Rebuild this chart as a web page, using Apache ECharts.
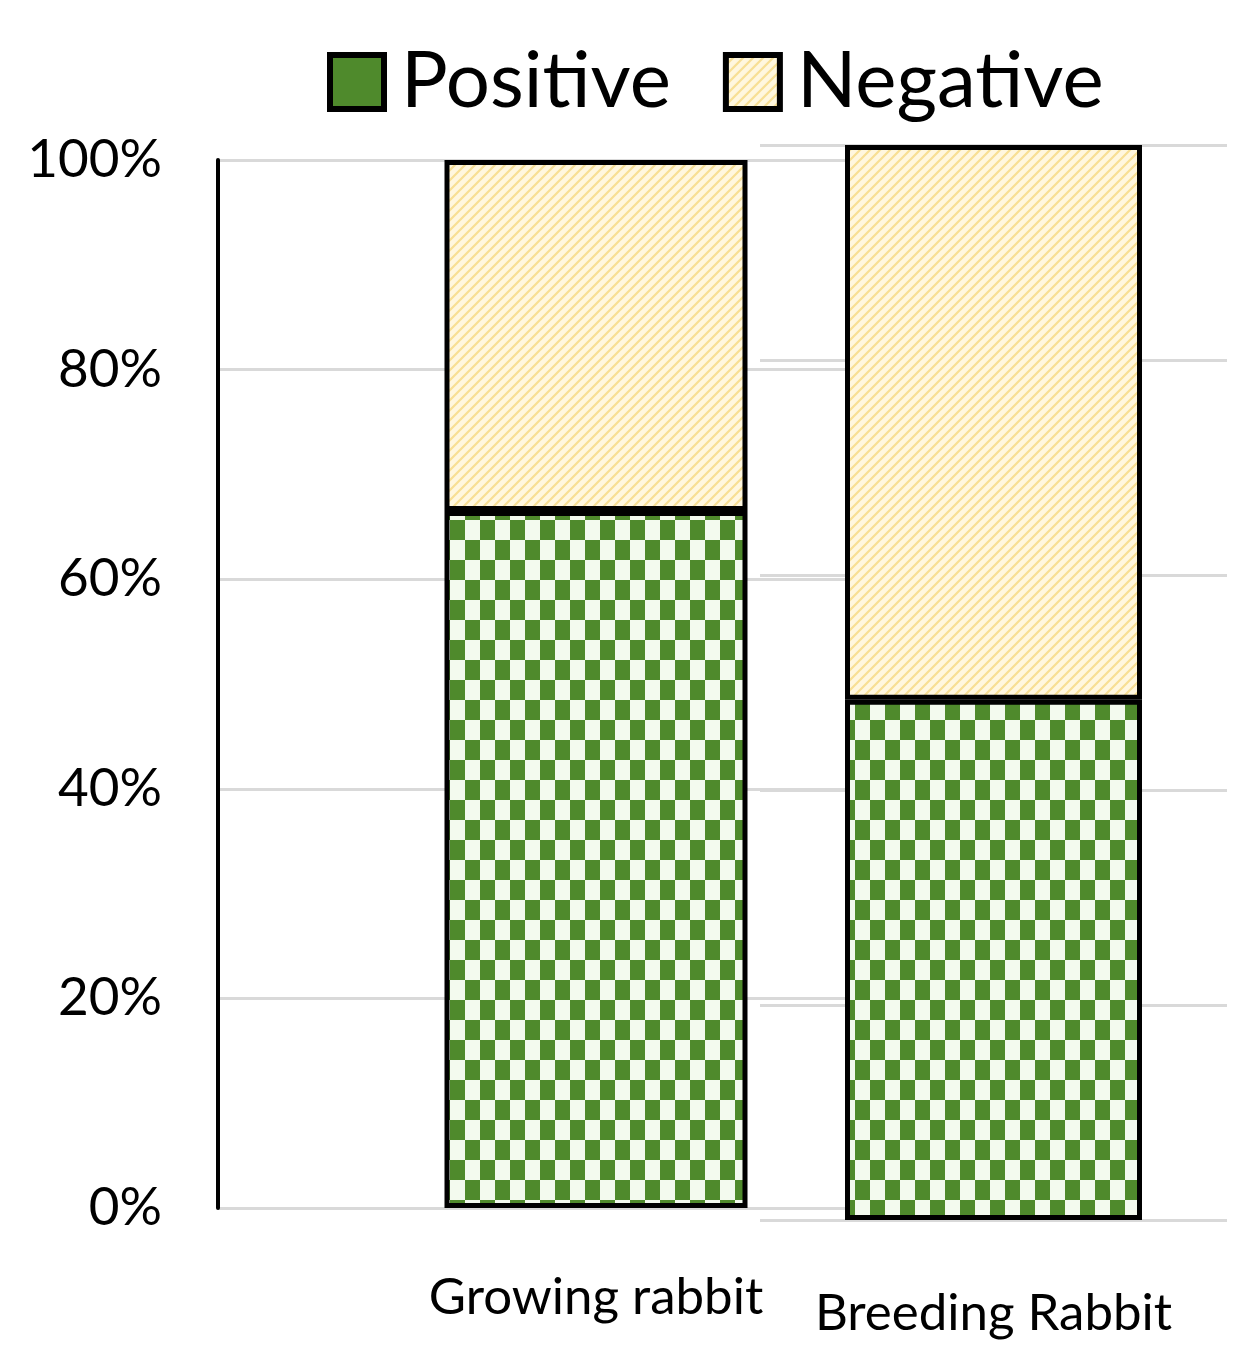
<!DOCTYPE html>
<html>
<head>
<meta charset="utf-8">
<script src="https://cdn.jsdelivr.net/npm/echarts@6/dist/echarts.min.js"></script>
<style>
  html, body { margin: 0; padding: 0; background: #ffffff; }
  #chart { width: 1237px; height: 1354px; }
</style>
</head>
<body>
<div id="chart"></div>
<script>
// Share of positive / negative results per rabbit group (percent)
const categories = ['Growing rabbit', 'Breeding Rabbit'];
const positive = [66.5, 48.4];
const negative = [33.5, 51.6];
const yTicks = [0, 20, 40, 60, 80, 100];

// Green checkerboard fill for "Positive"
function checkerPattern() {
  const c = document.createElement('canvas');
  const w = 15, h = 20;
  c.width = w * 2; c.height = h * 2;
  const g = c.getContext('2d');
  g.fillStyle = '#f3faee';
  g.fillRect(0, 0, c.width, c.height);
  g.fillStyle = '#4f8a2c';
  g.fillRect(0, 0, w, h);
  g.fillRect(w, h, w, h);
  return c;
}

// Pale yellow fill with thin diagonal stripes for "Negative"
function stripePattern() {
  const s = 10;
  const c = document.createElement('canvas');
  c.width = s; c.height = s;
  const g = c.getContext('2d');
  g.fillStyle = '#fff7df';
  g.fillRect(0, 0, s, s);
  g.strokeStyle = '#f8df94';
  g.lineWidth = 2.2;
  g.beginPath();
  g.moveTo(0, s); g.lineTo(s, 0);
  g.moveTo(-s / 2, s / 2); g.lineTo(s / 2, -s / 2);
  g.moveTo(s / 2, s * 1.5); g.lineTo(s * 1.5, s / 2);
  g.stroke();
  return c;
}

const posFill = { image: checkerPattern(), repeat: 'repeat' };
const negFill = { image: stripePattern(), repeat: 'repeat' };

const font = 'Lato, "Open Sans", sans-serif';
const gridLine = { show: true, lineStyle: { color: '#d9d9d9', width: 3 } };
const barBorder = { borderColor: '#000000', borderWidth: 5 };

const chart = echarts.init(document.getElementById('chart'), null, { renderer: 'canvas' });

chart.setOption({
  backgroundColor: '#ffffff',
  animation: false,
  legend: {
    left: 322,
    top: 38,
    itemWidth: 54,
    itemHeight: 54,
    itemGap: 52,
    icon: 'rect',
    textStyle: { fontFamily: font, fontSize: 78, color: '#000000', padding: [0, 0, 0, 12] },
    data: [
      { name: 'Positive', itemStyle: { color: '#4f8a2c', borderColor: '#000', borderWidth: 6 } },
      { name: 'Negative', itemStyle: { color: negFill, borderColor: '#000', borderWidth: 6 } }
    ]
  },
  grid: [
    { left: 218, right: 263, top: 160, bottom: 146 },
    { left: 760, right: 10, top: 145, bottom: 134 }
  ],
  xAxis: [
    {
      gridIndex: 0, type: 'category', data: [categories[0]],
      axisLine: { show: false }, axisTick: { show: false },
      axisLabel: { fontFamily: font, fontSize: 51, color: '#000', margin: 64 }
    },
    {
      gridIndex: 1, type: 'category', data: [categories[1]],
      axisLine: { show: false }, axisTick: { show: false },
      axisLabel: { fontFamily: font, fontSize: 51, color: '#000', margin: 68 }
    }
  ],
  yAxis: [
    {
      gridIndex: 0, type: 'value', min: yTicks[0], max: yTicks[yTicks.length - 1], interval: 20,
      axisLine: { show: true, lineStyle: { color: '#000', width: 4 } },
      axisTick: { show: false },
      splitLine: gridLine,
      axisLabel: { fontFamily: font, fontSize: 53, color: '#000', margin: 56, formatter: '{value}%' }
    },
    {
      gridIndex: 1, type: 'value', min: yTicks[0], max: yTicks[yTicks.length - 1], interval: 20,
      axisLine: { show: false }, axisTick: { show: false },
      axisLabel: { show: false },
      splitLine: gridLine
    }
  ],
  series: [
    {
      name: 'Positive', type: 'bar', stack: 'g', xAxisIndex: 0, yAxisIndex: 0,
      barWidth: 303, data: [positive[0]],
      itemStyle: Object.assign({ color: posFill }, barBorder)
    },
    {
      name: 'Negative', type: 'bar', stack: 'g', xAxisIndex: 0, yAxisIndex: 0,
      barWidth: 303, data: [negative[0]],
      itemStyle: Object.assign({ color: negFill }, barBorder)
    },
    {
      name: 'Positive', type: 'bar', stack: 'b', xAxisIndex: 1, yAxisIndex: 1,
      barWidth: 297, data: [positive[1]],
      itemStyle: Object.assign({ color: posFill }, barBorder)
    },
    {
      name: 'Negative', type: 'bar', stack: 'b', xAxisIndex: 1, yAxisIndex: 1,
      barWidth: 297, data: [negative[1]],
      itemStyle: Object.assign({ color: negFill }, barBorder)
    }
  ]
});
</script>
</body>
</html>
